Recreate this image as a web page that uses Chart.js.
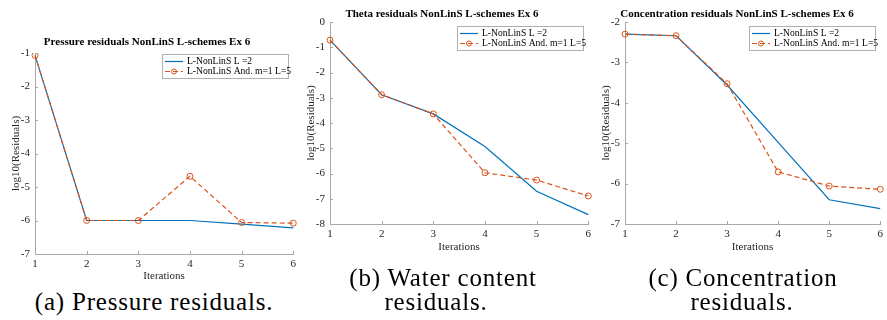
<!DOCTYPE html>
<html><head><meta charset="utf-8">
<script src="https://cdn.jsdelivr.net/npm/chart.js@4/dist/chart.umd.min.js"></script>
<style>
html,body{margin:0;padding:0;background:#fff;overflow:hidden;width:887px;height:320px;}
canvas{position:absolute;}
.cap{position:absolute;font-family:"Liberation Serif","Times New Roman",serif;font-size:25px;letter-spacing:0.8px;color:#000;white-space:nowrap;transform:translate(-50%,-50%);line-height:1;}
</style></head><body>
<canvas id="ca" width="300" height="284" style="left:0;top:0"></canvas>
<canvas id="cb" width="300" height="255" style="left:295px;top:0"></canvas>
<canvas id="cc" width="297" height="255" style="left:590px;top:0"></canvas>
<div class="cap" style="left:154px;top:301px">(a) Pressure residuals.</div>
<div class="cap" style="left:443px;top:277px">(b) Water content</div>
<div class="cap" style="left:436px;top:301px">residuals.</div>
<div class="cap" style="left:743px;top:277px">(c) Concentration</div>
<div class="cap" style="left:742px;top:301px">residuals.</div>
<script>
const iterations = ['1', '2', '3', '4', '5', '6'];
const seriesLabels = ['L-NonLinS L =2', 'L-NonLinS And. m=1 L=5'];
const pressureL2  = [-1.07, -6.00, -6.00, -6.00, -6.11, -6.22];
const pressureAnd = [-1.07, -6.00, -6.00, -4.68, -6.06, -6.08];
const thetaL2     = [-0.72, -2.88, -3.64, -4.93, -6.70, -7.63];
const thetaAnd    = [-0.72, -2.88, -3.64, -5.97, -6.26, -6.89];
const concL2      = [-2.30, -2.34, -3.56, -4.98, -6.40, -6.62];
const concAnd     = [-2.30, -2.34, -3.53, -5.71, -6.06, -6.14];
const titles = ['Pressure residuals NonLinS L-schemes Ex 6', 'Theta residuals NonLinS L-schemes Ex 6', 'Concentration residuals NonLinS L-schemes Ex 6'];
const yMin = [-7, -8, -7];
const yMax = [-1, 0, -2];
const xTitle = 'Iterations';
const yTitle = 'log10(Residuals)';

const BLUE = '#0072BD', ORANGE = '#D95319', AXIS = '#a8a8a8', TXT = '#262626';
const SERIF = '"Liberation Serif", "Times New Roman", serif';

const decor = {
  id: 'decor',
  afterDraw(chart, args, opts) {
    const {ctx, chartArea: a, scales: {x, y}} = chart;
    ctx.save();
    ctx.strokeStyle = AXIS; ctx.lineWidth = 1;
    x.ticks.forEach((t, i) => { const px = Math.round(x.getPixelForTick(i)) + 0.5; ctx.beginPath(); ctx.moveTo(px, a.bottom); ctx.lineTo(px, a.bottom - 3); ctx.stroke(); });
    y.ticks.forEach((t, i) => { const py = Math.round(y.getPixelForTick(i)) + 0.5; ctx.beginPath(); ctx.moveTo(a.left, py); ctx.lineTo(a.left + 3, py); ctx.stroke(); });
    const w = 126, h = 24;
    const bx = Math.round(a.right - opts.right - w), by = Math.round(a.top + opts.top);
    ctx.fillStyle = '#fff'; ctx.fillRect(bx, by, w, h);
    ctx.strokeStyle = '#b0b0b0'; ctx.strokeRect(bx + 0.5, by + 0.5, w, h);
    chart.data.datasets.forEach((ds, i) => {
      const ly = by + 7.5 + i * 10;
      ctx.strokeStyle = ds.borderColor; ctx.lineWidth = ds.borderWidth; ctx.setLineDash(ds.borderDash || []);
      ctx.beginPath(); ctx.moveTo(bx + 3, ly); ctx.lineTo(bx + 21, ly); ctx.stroke();
      ctx.setLineDash([]);
      if (ds.pointRadius > 0) { ctx.lineWidth = 1; ctx.beginPath(); ctx.arc(bx + 12, ly, ds.pointRadius - 0.5, 0, 2 * Math.PI); ctx.stroke(); }
      ctx.fillStyle = '#000'; ctx.font = '9.6px ' + SERIF; ctx.textBaseline = 'middle'; ctx.textAlign = 'left';
      ctx.fillText(ds.label, bx + 25, ly);
    });
    ctx.restore();
  }
};

function makeChart(id, idx, l2, and, padRight, titlePad, xH, legTop) {
  new Chart(document.getElementById(id), {
    type: 'line',
    data: {
      labels: iterations,
      datasets: [
        {label: seriesLabels[0], data: l2, borderColor: BLUE, borderWidth: 1.2, pointRadius: 0, tension: 0, order: 1},
        {label: seriesLabels[1], data: and, borderColor: ORANGE, borderWidth: 1.2, borderDash: [5, 3], pointRadius: 3, pointBorderWidth: 1,
         pointBorderColor: ORANGE, pointBackgroundColor: 'rgba(255,255,255,0)', tension: 0, order: 0}
      ]
    },
    options: {
      responsive: false, animation: false, events: [],
      layout: {padding: {left: 0, right: padRight, top: 0, bottom: 0}},
      plugins: {
        legend: {display: false}, tooltip: {enabled: false},
        title: {display: true, text: titles[idx], color: '#000', font: {family: SERIF, size: 11, weight: 'bold'}, padding: titlePad},
        decor: {right: 5, top: legTop}
      },
      scales: {
        x: {
          afterFit(s) { s.height = xH; },
          grid: {display: true, drawOnChartArea: false, drawTicks: false},
          border: {display: true, color: AXIS, width: 1},
          ticks: {color: TXT, font: {family: SERIF, size: 11}, padding: 4, maxRotation: 0, autoSkip: false},
          title: {display: true, text: xTitle, color: TXT, font: {family: SERIF, size: 11}, padding: {top: 0, bottom: 1.4}}
        },
        y: {
          min: yMin[idx], max: yMax[idx],
          afterFit(s) { s.width = 35; },
          grid: {display: true, drawOnChartArea: false, drawTicks: false},
          border: {display: true, color: AXIS, width: 1},
          ticks: {stepSize: 1, color: TXT, font: {family: SERIF, size: 11}, padding: 5},
          title: {display: true, text: yTitle, color: TXT, font: {family: SERIF, size: 11}, padding: {top: 9.4, bottom: 0}}
        }
      }
    },
    plugins: [decor]
  });
}

makeChart('ca', 0, pressureL2, pressureAnd, 6, {top: 35.4, bottom: 4.4}, 30, 1);
makeChart('cb', 1, thetaL2, thetaAnd, 6, {top: 7.4, bottom: 1.4}, 31, 4);
makeChart('cc', 2, concL2, concAnd, 3, {top: 7.4, bottom: 1.4}, 31, 4);
</script>
</body></html>
